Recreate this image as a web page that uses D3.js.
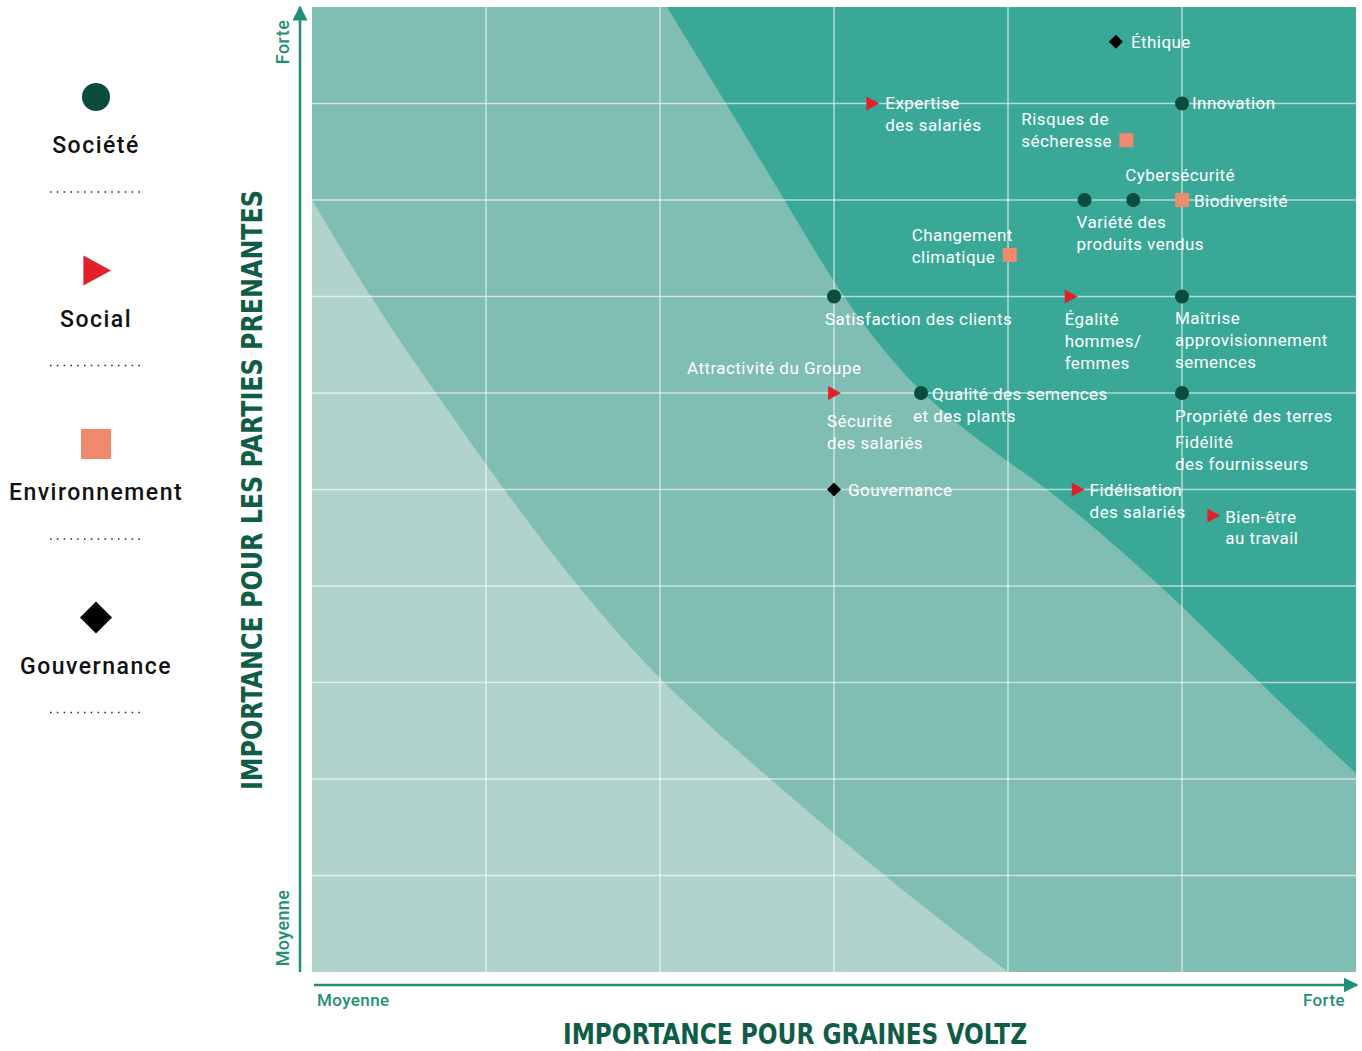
<!DOCTYPE html>
<html>
<head>
<meta charset="utf-8">
<script src="https://cdn.jsdelivr.net/npm/d3@7"></script>
<style>
  body { margin: 0; background: #fff; }
  svg text { font-family: Roboto, "DejaVu Sans", sans-serif; }
</style>
</head>
<body>
<script>
var width = 1362,
  height = 1051;

// Categories (legend order)
var categories = ["Société", "Social", "Environnement", "Gouvernance"];
var categoryColors = ["#0b4d3d", "#e3202a", "#f08a6e", "#000000"];

// Issues: name lines, category, x (importance Graines Voltz), y (importance parties prenantes)
var issueLabels = [
  ["Éthique"],
  ["Expertise", "des salariés"],
  ["Innovation"],
  ["Risques de", "sécheresse"],
  ["Cybersécurité"],
  ["Variété des", "produits vendus"],
  ["Biodiversité"],
  ["Changement", "climatique"],
  ["Satisfaction des clients"],
  ["Égalité", "hommes/", "femmes"],
  ["Maîtrise", "approvisionnement", "semences"],
  ["Attractivité du Groupe"],
  ["Sécurité", "des salariés"],
  ["Qualité des semences", "et des plants"],
  ["Propriété des terres"],
  ["Fidélité", "des fournisseurs"],
  ["Gouvernance"],
  ["Fidélisation", "des salariés"],
  ["Bien-être", "au travail"]
];
var issueCategory = [3, 1, 0, 2, 0, 0, 2, 2, 0, 1, 0, 1, 1, 0, 0, 0, 3, 1, 1];
var issueX = [4.62, 3.22, 5.0, 4.68, 4.72, 4.44, 5.0, 4.01, 3.0, 4.36, 5.0, 3.0, 3.0, 3.5, 5.0, 5.0, 3.0, 4.4, 5.18];
var issueY = [9.64, 9.0, 9.0, 8.62, 8.0, 8.0, 8.0, 7.43, 7.0, 7.0, 7.0, 6.0, 6.0, 6.0, 6.0, 6.0, 5.0, 5.0, 4.73];

// Zone boundaries (in chart units)
var innerX = [0, 0.33, 0.71, 1.1, 1.52, 2.0, 2.63, 3.28, 4.0];
var innerY = [8, 7, 6, 5, 4, 3, 2, 1, 0];
var outerX = [2.04, 2.72, 3.04, 3.47, 4.0, 4.24, 4.89, 5.44, 6.0];
var outerY = [10, 8, 7, 6, 5.28, 5, 4, 3, 2.06];

// Label placement (pixel offsets from marker): dx, dy of first line, optional dx of next lines
var labelPlace = [
  [15, 0], [13, 0], [10, 0], [-105, -21], [-8, -25], [-8, 22], [12, 1], [-98, -20],
  [-9, 23], [-6, 23], [-7, 22], [-147, -25], [-7, 28], [11, 1, -8], [-7, 23], [-7, 49],
  [14, 1], [12, 1], [12, 1]
];

var svg = d3.select("body").append("svg")
  .attr("width", width)
  .attr("height", height);

var x = d3.scaleLinear().domain([0, 6]).range([312, 1356]);
var y = d3.scaleLinear().domain([0, 10]).range([972, 7]);

var plot = svg.append("g");

// middle zone as background
plot.append("rect")
  .attr("x", x(0)).attr("y", y(10))
  .attr("width", x(6) - x(0)).attr("height", y(0) - y(10))
  .attr("fill", "#80bdb2");

var inner = d3.area()
  .x(function (d) { return x(d[0]); })
  .y0(y(0))
  .y1(function (d) { return y(d[1]); })
  .curve(d3.curveBasis);

plot.append("path")
  .datum(d3.zip(innerX, innerY))
  .attr("d", inner)
  .attr("fill", "#b0d3cc");

var outer = d3.area()
  .x(function (d) { return x(d[0]); })
  .y0(y(10))
  .y1(function (d) { return y(d[1]); })
  .curve(d3.curveBasis);

plot.append("path")
  .datum(d3.zip(outerX, outerY))
  .attr("d", outer)
  .attr("fill", "#3aa897");

// grid
plot.selectAll(".vgrid")
  .data(d3.range(1, 6))
  .enter().append("line")
  .attr("x1", function (d) { return x(d); })
  .attr("x2", function (d) { return x(d); })
  .attr("y1", y(0)).attr("y2", y(10))
  .attr("stroke", "#ffffff").attr("stroke-opacity", 0.6).attr("stroke-width", 1.5);

plot.selectAll(".hgrid")
  .data(d3.range(1, 10))
  .enter().append("line")
  .attr("y1", function (d) { return y(d); })
  .attr("y2", function (d) { return y(d); })
  .attr("x1", x(0)).attr("x2", x(6))
  .attr("stroke", "#ffffff").attr("stroke-opacity", 0.6).attr("stroke-width", 1.5);

// axes with arrows
var axisColor = "#1f8f77";
svg.append("defs").append("marker")
  .attr("id", "arrow")
  .attr("viewBox", "0 0 10 10")
  .attr("refX", 9).attr("refY", 5)
  .attr("markerWidth", 6).attr("markerHeight", 6)
  .attr("markerUnits", "strokeWidth")
  .attr("orient", "auto")
  .append("path")
  .attr("d", "M0,0 L10,5 L0,10 Z")
  .attr("fill", axisColor);

svg.append("line")
  .attr("x1", 300).attr("x2", 300)
  .attr("y1", y(0)).attr("y2", 7)
  .attr("stroke", axisColor).attr("stroke-width", 2.5)
  .attr("marker-end", "url(#arrow)");

svg.append("line")
  .attr("x1", 314).attr("x2", 1357)
  .attr("y1", 985).attr("y2", 985)
  .attr("stroke", axisColor).attr("stroke-width", 2.5)
  .attr("marker-end", "url(#arrow)");

function endLabel(t, tr, anchor, size) {
  svg.append("text").text(t)
    .attr("transform", tr)
    .attr("text-anchor", anchor)
    .attr("fill", axisColor)
    .attr("font-size", size)
    .attr("font-weight", 500)
    .attr("letter-spacing", 0.4);
}
endLabel("Moyenne", "translate(317,1006)", "start", 17);
endLabel("Forte", "translate(1345,1006)", "end", 17);
endLabel("Forte", "translate(289,42) rotate(-90)", "middle", 18);
endLabel("Moyenne", "translate(289,928) rotate(-90)", "middle", 18);

// axis titles
var titleFont = "'Liberation Sans Narrow', 'DejaVu Sans Condensed', sans-serif";
svg.append("text").text("IMPORTANCE POUR GRAINES VOLTZ")
  .attr("x", 795).attr("y", 1044).attr("text-anchor", "middle")
  .style("font-family", titleFont)
  .attr("font-size", 28).attr("font-weight", "bold").attr("fill", "#0f5d47")
  .attr("textLength", 464).attr("lengthAdjust", "spacingAndGlyphs");

svg.append("text").text("IMPORTANCE POUR LES PARTIES PRENANTES")
  .attr("transform", "translate(262,490) rotate(-90)").attr("text-anchor", "middle")
  .style("font-family", titleFont)
  .attr("font-size", 29).attr("font-weight", "bold").attr("fill", "#0f5d47")
  .attr("textLength", 600).attr("lengthAdjust", "spacingAndGlyphs");

// symbols
function drawSymbol(sel, cat, s) {
  var c = categoryColors[cat];
  if (cat === 0) {
    sel.append("circle").attr("r", s / 2).attr("fill", c);
  } else if (cat === 1) {
    sel.append("path")
      .attr("d", "M" + (-s * 0.42) + "," + (-s / 2) + "L" + (s * 0.5) + ",0L" + (-s * 0.42) + "," + (s / 2) + "Z")
      .attr("fill", c);
  } else if (cat === 2) {
    sel.append("rect").attr("x", -s / 2).attr("y", -s / 2).attr("width", s).attr("height", s).attr("fill", c);
  } else {
    sel.append("path")
      .attr("d", "M0," + (-s / 2) + "L" + (s / 2) + ",0L0," + (s / 2) + "L" + (-s / 2) + ",0Z")
      .attr("fill", c);
  }
}

var issues = issueLabels.map(function (l, i) {
  return { lines: l, cat: issueCategory[i], x: issueX[i], y: issueY[i], place: labelPlace[i] };
});

var issueG = svg.selectAll(".issue")
  .data(issues)
  .enter().append("g")
  .attr("class", "issue")
  .attr("transform", function (d) { return "translate(" + x(d.x) + "," + y(d.y) + ")"; });

issueG.each(function (d, i) {
  var g = d3.select(this);
  if (i !== 11 && i !== 15) drawSymbol(g, d.cat, 14);
  d.lines.forEach(function (t, k) {
    var dx = (k > 0 && d.place.length > 2) ? d.place[2] : d.place[0];
    g.append("text")
      .text(t)
      .attr("x", dx)
      .attr("y", d.place[1] + k * 22)
      .attr("dy", "0.35em")
      .attr("fill", "#ffffff")
      .attr("font-size", 17)
      .attr("letter-spacing", 0.45);
  });
});

// legend
var legend = svg.selectAll(".legend")
  .data(categories)
  .enter().append("g")
  .attr("class", "legend")
  .attr("transform", function (d, i) { return "translate(96," + (97 + i * 173.5) + ")"; });

legend.each(function (d, i) {
  var g = d3.select(this);
  drawSymbol(g, i, i === 0 ? 28 : (i === 3 ? 32 : 30));
  g.append("text")
    .text(d)
    .attr("y", 56)
    .attr("text-anchor", "middle")
    .attr("font-size", 23)
    .attr("font-weight", 500)
    .attr("letter-spacing", 1.5)
    .attr("fill", "#111");
  g.append("line")
    .attr("x1", -46).attr("x2", 48)
    .attr("y1", 95).attr("y2", 95)
    .attr("stroke", "#222").attr("stroke-width", 1.5)
    .attr("stroke-dasharray", "1.5,5.3");
});
</script>
</body>
</html>
